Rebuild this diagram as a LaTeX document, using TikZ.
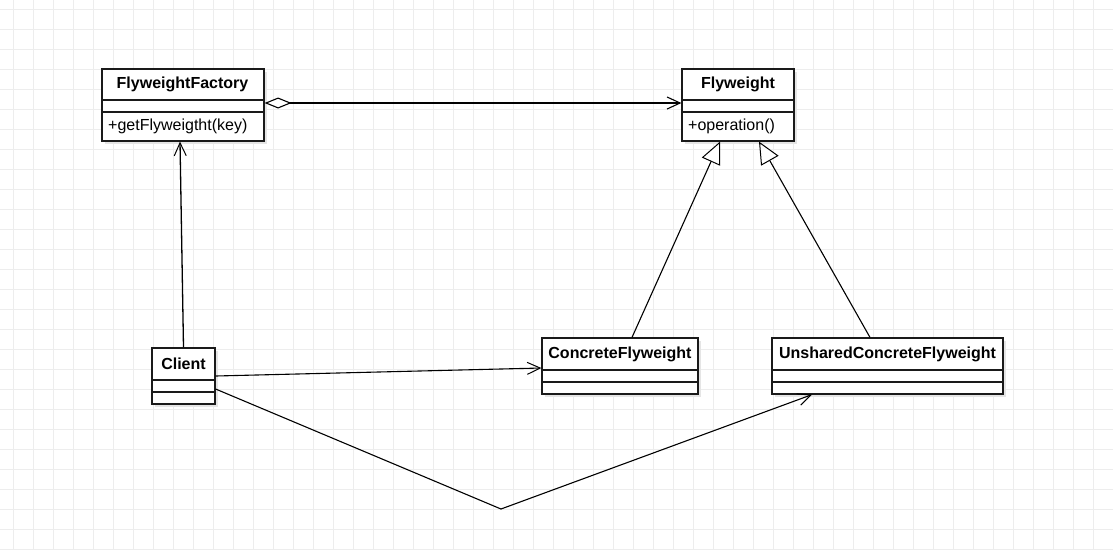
\documentclass[tikz,border=0pt]{standalone}
\usepackage{fontspec}
\setmainfont{Liberation Sans}
\usetikzlibrary{arrows.meta,shadows}
\definecolor{gridc}{HTML}{EDEDED}
\definecolor{boxc}{HTML}{1A1A1A}
\tikzset{
  cls/.style={draw=boxc, line width=1.2pt, fill=white, inner sep=0pt,
    drop shadow={shadow xshift=3pt, shadow yshift=-3pt, fill=black!10, opacity=1}},
  sep/.style={draw=boxc, line width=1.2pt},
  title/.style={font=\fontsize{16}{19}\selectfont\bfseries, inner sep=0pt},
  member/.style={font=\fontsize{16}{19}\selectfont, inner sep=0pt, anchor=west},
  conn/.style={draw=black, line width=1.1pt},
  openarrow/.style={-{Straight Barb[length=13pt,width=12pt,line width=1pt]}},
  inherit/.style={-{Triangle[open,length=22pt,width=20pt,line width=1pt,fill=white]}},
  aggr/.style={line width=1.8pt, {Diamond[open,length=27pt,width=11pt,line width=1.1pt,fill=white]}-{Straight Barb[length=13pt,width=12pt,line width=1.1pt]}}
}
\begin{document}
\begin{tikzpicture}[x=1pt,y=-1pt]
\useasboundingbox (0,0) rectangle (1113,550);
\fill[white] (0,0) rectangle (1113,550);
\foreach \i in {0,...,55} {\draw[gridc, line width=1pt] (13+20*\i,0) -- (13+20*\i,550);}
\foreach \j in {0,...,27} {\draw[gridc, line width=1pt] (0,9+20*\j) -- (1113,9+20*\j);}

% classes
\node[cls, minimum width=162pt, minimum height=72pt] (ff) at (183,105) {};
\draw[sep] (ff.west |- 0,100) -- (ff.east |- 0,100);
\draw[sep] (ff.west |- 0,112) -- (ff.east |- 0,112);
\node[title] (fft) at (182.5,84) {FlyweightFactory};
\node[member] (ffm) at (108,126.5) {+getFlyweigtht(key)};

\node[cls, minimum width=112pt, minimum height=72pt] (fw) at (738,105) {};
\draw[sep] (fw.west |- 0,100) -- (fw.east |- 0,100);
\draw[sep] (fw.west |- 0,112) -- (fw.east |- 0,112);
\node[title] (fwt) at (738,84) {Flyweight};
\node[member] (fwm) at (688,126.5) {+operation()};

\node[cls, minimum width=63pt, minimum height=56pt] (cl) at (183.5,376) {};
\draw[sep] (cl.west |- 0,380) -- (cl.east |- 0,380);
\draw[sep] (cl.west |- 0,392) -- (cl.east |- 0,392);
\node[title] (clt) at (183.5,364) {Client};

\node[cls, minimum width=156pt, minimum height=56pt] (cf) at (620,366) {};
\draw[sep] (cf.west |- 0,370) -- (cf.east |- 0,370);
\draw[sep] (cf.west |- 0,382) -- (cf.east |- 0,382);
\node[title] (cft) at (620,354) {ConcreteFlyweight};

\node[cls, minimum width=231pt, minimum height=56pt] (ucf) at (887.5,366) {};
\draw[sep] (ucf.west |- 0,370) -- (ucf.east |- 0,370);
\draw[sep] (ucf.west |- 0,382) -- (ucf.east |- 0,382);
\node[title] (ucft) at (887.5,354) {UnsharedConcreteFlyweight};

% connectors
\draw[conn, aggr] (ff.east |- 0,103) -- (fw.west |- 0,103);
\draw[conn, line width=1.3pt, openarrow] (cl.north) -- (ff.south -| 180,0);
\draw[conn, openarrow] (cl.east) -- (cf.west |- 0,368);
\coordinate (bend) at (501,509);
\draw[conn, openarrow] (cl.east |- 0,389) -- (bend) -- (ucf.south -| 812,0);
\draw[conn, inherit] (cf.north -| 632,0) -- (fw.south -| 720,0);
\draw[conn, inherit] (ucf.north -| 870,0) -- (fw.south -| 759,0);
\end{tikzpicture}
\end{document}
